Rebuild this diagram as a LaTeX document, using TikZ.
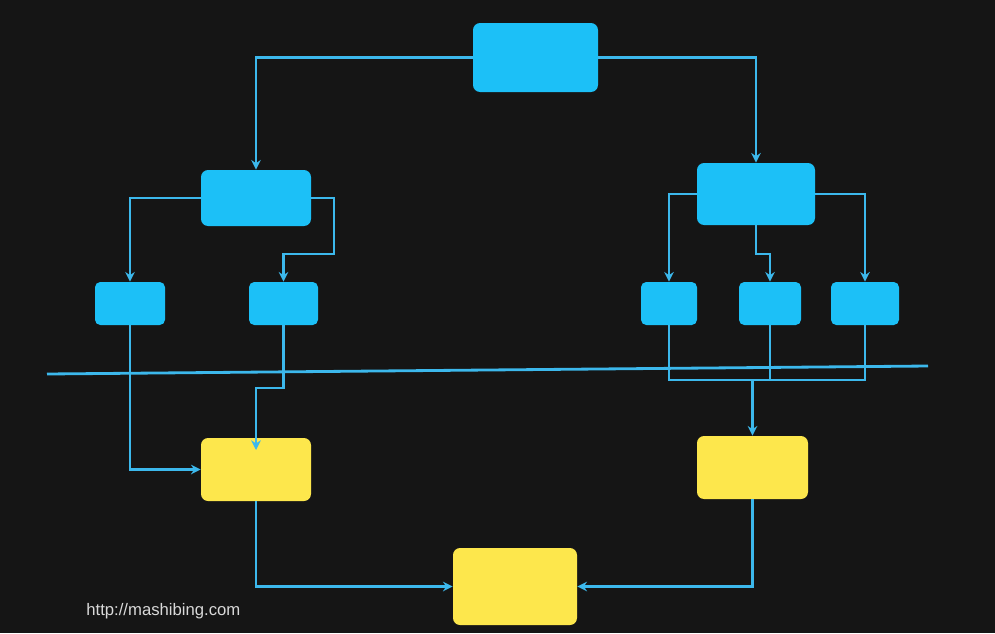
\documentclass[tikz,border=0pt]{standalone}
\usepackage{fontspec}
\setmainfont{Liberation Sans}
\usetikzlibrary{arrows.meta}
\definecolor{bg}{HTML}{151515}
\definecolor{boxblue}{HTML}{1CC0F7}
\definecolor{boxyellow}{HTML}{FDE74C}
\definecolor{wire}{HTML}{3CB8EC}
\begin{document}
\begin{tikzpicture}[x=0.02cm,y=-0.02cm,
  bluebox/.style={fill=boxblue,rounded corners=4pt,inner sep=0pt},
  yellowbox/.style={fill=boxyellow,rounded corners=4pt,inner sep=0pt},
  wireline/.style={draw=wire,line width=1.6pt},
  arr/.style={wireline,-{Stealth[length=5.5pt,width=5.5pt]}}]
\fill[bg] (0,0) rectangle (995,633);
\useasboundingbox (0,0) rectangle (995,633);
% blue boxes
\node[bluebox,minimum width=125*0.02cm,minimum height=69*0.02cm] (top) at (535.5,57.5) {};
\node[bluebox,minimum width=110*0.02cm,minimum height=56*0.02cm] (L) at (256,198) {};
\node[bluebox,minimum width=118*0.02cm,minimum height=62*0.02cm] (R) at (756,194) {};
\node[bluebox,rounded corners=3pt,minimum width=70*0.02cm,minimum height=43*0.02cm] (LL1) at (130,303.5) {};
\node[bluebox,rounded corners=3pt,minimum width=69*0.02cm,minimum height=43*0.02cm] (LL2) at (283.5,303.5) {};
\node[bluebox,rounded corners=3pt,minimum width=56*0.02cm,minimum height=43*0.02cm] (RL1) at (669,303.5) {};
\node[bluebox,rounded corners=3pt,minimum width=62*0.02cm,minimum height=43*0.02cm] (RL2) at (770,303.5) {};
\node[bluebox,rounded corners=3pt,minimum width=68*0.02cm,minimum height=43*0.02cm] (RL3) at (865,303.5) {};
% yellow boxes
\node[yellowbox,minimum width=110*0.02cm,minimum height=63*0.02cm] (YL) at (256,469.5) {};
\node[yellowbox,minimum width=111*0.02cm,minimum height=63*0.02cm] (YR) at (752.5,467.5) {};
\node[yellowbox,minimum width=124*0.02cm,minimum height=77*0.02cm] (YB) at (515,586.5) {};
% coordinates for free ends
\coordinate (divA) at (47,374);
\coordinate (divB) at (928,366);
\coordinate (YLin) at (256,450);
% connectors
\draw[arr] (top.west) -| (L.north);
\draw[arr] (top.east) -| (R.north);
\draw[arr] (L.west) -| (LL1.north);
\draw[arr] (L.east) -- (334,198) -- (334,254) -- (283.5,254) -- (LL2.north);
\draw[arr] (R.west) -| (RL1.north);
\draw[arr] (R.south) -- (756,254) -- (770,254) -- (RL2.north);
\draw[arr] (R.east) -| (RL3.north);
\draw[arr] (LL1.south) |- (YL.west);
\draw[arr] (LL2.south) -- (283.5,388) -- (256,388) -- (YLin);
\draw[wireline] (RL1.south) -- (669,380) -- (865,380) -- (RL3.south);
\draw[wireline] (RL2.south) -- (770,380);
\draw[arr] (752.5,380) -- (YR.north);
\draw[wireline] (divA) -- (divB);
\draw[arr] (YL.south) |- (YB.west);
\draw[arr] (YR.south) |- (YB.east);
% url
\node[anchor=west,text=white!85!black,font=\fontsize{9.5}{11}\selectfont,inner sep=0pt] (url) at (86,611.5) {http://mashibing.com};
\end{tikzpicture}
\end{document}
